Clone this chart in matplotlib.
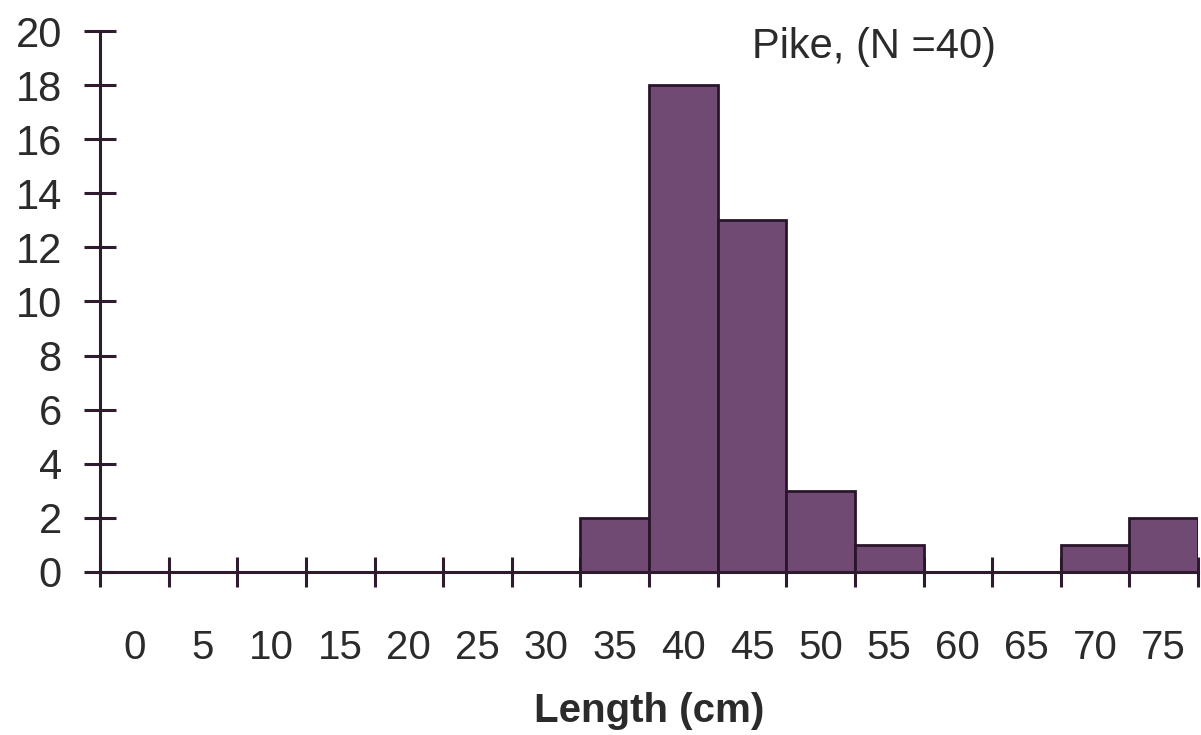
import numpy as np
import matplotlib
matplotlib.use('Agg')
import matplotlib.pyplot as plt

# length classes (cm) and counts of pike
lengths = ['0', '5', '10', '15', '20', '25', '30', '35', '40', '45', '50', '55', '60', '65', '70', '75']
counts = [0, 0, 0, 0, 0, 0, 0, 2, 18, 13, 3, 1, 0, 0, 1, 2]
y_ticks = [0, 2, 4, 6, 8, 10, 12, 14, 16, 18, 20]

plt.rcParams['font.family'] = ['Liberation Sans', 'DejaVu Sans']

fig = plt.figure(figsize=(12.01, 7.35), dpi=100)
ax = fig.add_axes([0.0833, 0.2218, 0.9142, 0.736])

axis_col = '#2e1c2e'
text_col = '#2b2b2b'

x = np.arange(len(lengths)) + 0.5
ax.bar(x, counts, width=1.0, color='#704a72', edgecolor='#2a162c', linewidth=2.0, zorder=2)

ax.set_xlim(0, len(lengths))
ax.set_ylim(0, 20)

ax.spines['top'].set_visible(False)
ax.spines['right'].set_visible(False)
ax.spines['left'].set_linewidth(2.2)
ax.spines['bottom'].set_linewidth(2.2)
ax.spines['left'].set_color(axis_col)
ax.spines['bottom'].set_color(axis_col)
ax.spines['bottom'].set_zorder(3)

ax.set_yticks(y_ticks)
ax.tick_params(axis='y', direction='inout', length=23, width=2.2, color=axis_col,
               labelsize=30, labelcolor=text_col, pad=16)

# labels centred on classes, marks on class boundaries
ax.set_xticks(x)
ax.set_xticklabels(lengths)
ax.set_xticks(np.arange(len(lengths) + 1), minor=True)
ax.tick_params(axis='x', which='major', length=0, labelsize=29, labelcolor=text_col, pad=41)
ax.tick_params(axis='x', which='minor', direction='inout', length=22, width=2.2, color=axis_col)

ax.set_xlabel('Length (cm)', fontsize=29, fontweight='bold', color=text_col, labelpad=18)

ax.text(0.594, 0.97, 'Pike, (N =40)', transform=ax.transAxes, fontsize=30,
        color=text_col, va='center', ha='left')

fig.savefig('out.png', dpi=100)
